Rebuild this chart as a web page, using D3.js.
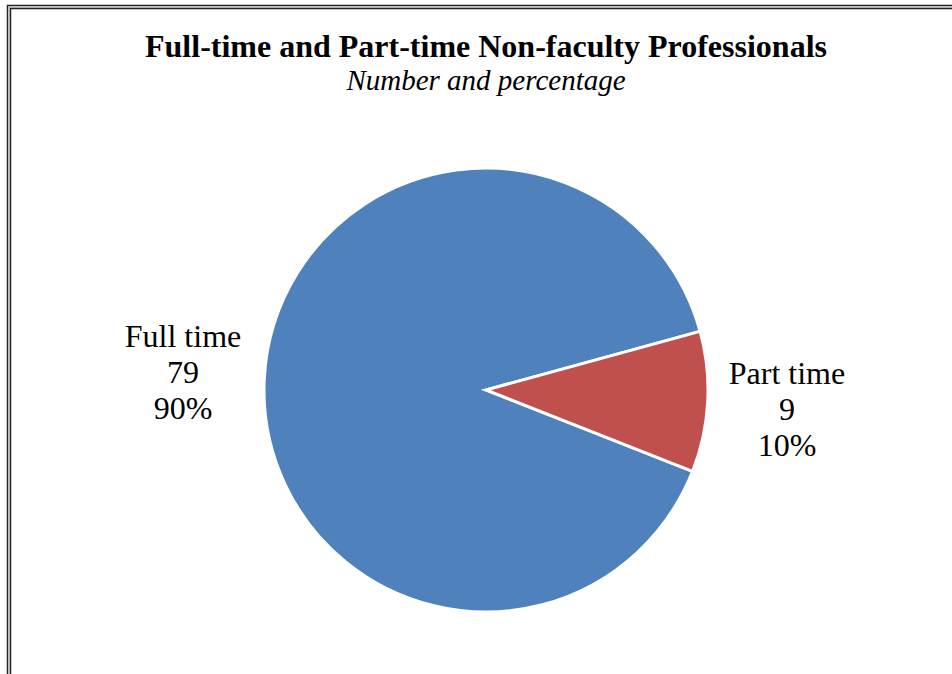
<!DOCTYPE html>
<html><head><meta charset="utf-8">
<script src="https://cdn.jsdelivr.net/npm/d3@7"></script>
<style>html,body{margin:0;padding:0;background:#fff;}svg{display:block;}</style>
</head><body>
<svg id="c" width="952" height="674"></svg>
<script>
const categories = ["Full time", "Part time"];
const values = [79, 9];
const percentLabels = ["90%", "10%"];
const colors = ["#4F81BD", "#C0504D"];
const titleText = "Full-time and Part-time Non-faculty Professionals";
const subtitleText = "Number and percentage";

const svg = d3.select("#c");
const W = 952, H = 674;
svg.append("rect").attr("width", W).attr("height", H).attr("fill", "#fff");

// double frame
svg.append("rect").attr("x", 7.5).attr("y", 5.5).attr("width", W).attr("height", H)
  .attr("fill", "none").attr("stroke", "#222").attr("stroke-width", 1.5);
svg.append("rect").attr("x", 9).attr("y", 7).attr("width", W).attr("height", H)
  .attr("fill", "none").attr("stroke", "#bbb").attr("stroke-width", 1);
svg.append("rect").attr("x", 10.5).attr("y", 8.5).attr("width", W).attr("height", H)
  .attr("fill", "none").attr("stroke", "#222").attr("stroke-width", 1.5);

const serif = "'Liberation Serif','Times New Roman',serif";
svg.append("text").attr("x", 486).attr("y", 57).attr("text-anchor", "middle")
  .attr("font-family", serif).attr("font-weight", "bold").attr("font-size", 32)
  .attr("fill", "#000").text(titleText);
svg.append("text").attr("x", 486).attr("y", 90).attr("text-anchor", "middle")
  .attr("font-family", serif).attr("font-style", "italic").attr("font-size", 29)
  .attr("fill", "#000").text(subtitleText);

const cx = 486, cy = 390, R = 222;
const startDeg = 111.5;
const pie = d3.pie().sort(null)
  .startAngle(startDeg * Math.PI / 180)
  .endAngle(startDeg * Math.PI / 180 + 2 * Math.PI);
const data = categories.map((c, i) => ({cat: c, v: values[i], pct: percentLabels[i], col: colors[i]}));
const arcs = pie.value(d => d.v)(data);
const arc = d3.arc().innerRadius(0).outerRadius(R);
const g = svg.append("g").attr("transform", `translate(${cx},${cy})`);
g.selectAll("path").data(arcs).join("path")
  .attr("d", arc).attr("fill", d => d.data.col)
  .attr("stroke", "#fff").attr("stroke-width", 3).attr("stroke-linejoin", "miter");

// labels outside
const labelPos = [{x: 183, y: 347}, {x: 787, y: 384}];
const lineGap = 36;
arcs.forEach((a, i) => {
  const t = svg.append("text").attr("text-anchor", "middle")
    .attr("font-family", serif).attr("font-size", 32).attr("fill", "#000");
  const lines = [a.data.cat, String(a.data.v), a.data.pct];
  lines.forEach((s, j) => {
    t.append("tspan").attr("x", labelPos[i].x).attr("y", labelPos[i].y + j * lineGap).text(s);
  });
});
</script>
</body></html>
